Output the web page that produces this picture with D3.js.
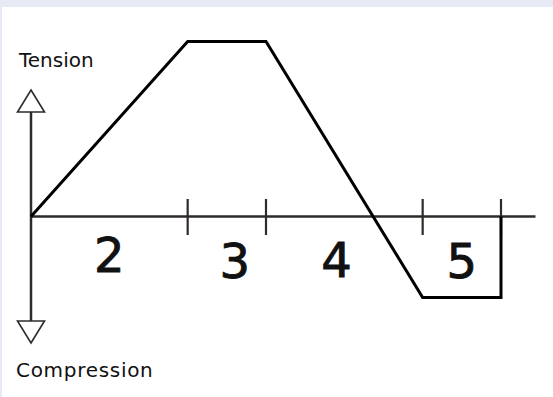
<!DOCTYPE html>
<html>
<head>
<meta charset="utf-8">
<script src="https://cdn.jsdelivr.net/npm/d3@7"></script>
<style>
  html, body { margin: 0; padding: 0; background: #ffffff; }
  svg { display: block; }
</style>
</head>
<body>
<script>
// ---- Data ----
// Force diagram: x = position along member (units), y = force (tension +, compression -)
const forceX = [0, 2, 3, 5, 6, 6];
const forceY = [0, 2, 2, -0.925, -0.925, 0];
// segment boundaries (tick marks on the baseline)
const tickValues = [2, 3, 5, 6];
// segment labels and their anchor positions (data units)
const segLabels = ["2", "3", "4", "5"];
const segLabelX = [1.0, 2.6, 3.9, 5.5];
const segLabelY = [-0.635, -0.705, -0.695, -0.705];
// axis extents (data units)
const xAxisEnd = 6.44;
const yAxisTop = 1.446;
const yAxisBottom = -1.446;
// axis titles
const axisTitles = ["Tension", "Compression"];

// ---- Layout ----
const W = 553, H = 397;
const svg = d3.select("body").append("svg").attr("width", W).attr("height", H);

// frame bands
svg.append("rect").attr("x", 0).attr("y", 0).attr("width", W).attr("height", 7).attr("fill", "#e5eaf5");
svg.append("rect").attr("x", 0).attr("y", 0).attr("width", 2).attr("height", H).attr("fill", "#e5eaf5");

const x = d3.scaleLinear().domain([0, 6]).range([31, 501]);
const y = d3.scaleLinear().domain([0, 2]).range([216.5, 41.5]);

const axisColor = "#2e2b28";

// vertical axis shaft
svg.append("line")
  .attr("x1", x(0)).attr("x2", x(0))
  .attr("y1", y(yAxisTop) + 22).attr("y2", y(yAxisBottom) - 22)
  .attr("stroke", axisColor).attr("stroke-width", 2.5);

// arrowheads (open triangles)
const ah = 22, aw = 13.5;
const upTip = y(yAxisTop), downTip = y(yAxisBottom);
svg.append("path")
  .attr("d", `M${x(0)},${upTip} L${x(0) + aw},${upTip + ah} L${x(0) - aw},${upTip + ah} Z`)
  .attr("fill", "#fff").attr("stroke", axisColor).attr("stroke-width", 1.6).attr("stroke-linejoin", "miter");
svg.append("path")
  .attr("d", `M${x(0)},${downTip} L${x(0) + aw},${downTip - ah} L${x(0) - aw},${downTip - ah} Z`)
  .attr("fill", "#fff").attr("stroke", axisColor).attr("stroke-width", 1.6).attr("stroke-linejoin", "miter");

// horizontal axis with two-sided ticks
const xAxisG = svg.append("g").attr("transform", `translate(0,${y(0)})`);
xAxisG.append("line")
  .attr("x1", x(0)).attr("x2", x(xAxisEnd))
  .attr("stroke", axisColor).attr("stroke-width", 2.5);
xAxisG.selectAll("line.tick")
  .data(tickValues).join("line")
  .attr("class", "tick")
  .attr("x1", d => x(d)).attr("x2", d => x(d))
  .attr("y1", -17.5).attr("y2", 18.5)
  .attr("stroke", axisColor).attr("stroke-width", 2.2);

// force line
const line = d3.line().x(d => x(d[0])).y(d => y(d[1]));
svg.append("path")
  .datum(d3.zip(forceX, forceY))
  .attr("d", line)
  .attr("fill", "none")
  .attr("stroke", "#000")
  .attr("stroke-width", 3)
  .attr("stroke-linejoin", "miter");

// segment labels
svg.selectAll("text.seg")
  .data(segLabels).join("text")
  .attr("class", "seg")
  .attr("x", (d, i) => x(segLabelX[i]))
  .attr("y", (d, i) => y(segLabelY[i]))
  .attr("text-anchor", "middle")
  .attr("font-family", "DejaVu Sans, sans-serif")
  .attr("font-size", 48)
  .attr("fill", "#111")
  .attr("stroke", "#111")
  .attr("stroke-width", 0.9)
  .text(d => d);

// axis titles
svg.append("text")
  .attr("x", 19).attr("y", 67)
  .attr("font-family", "DejaVu Sans, sans-serif")
  .attr("font-size", 20)
  .attr("fill", "#111")
  .text(axisTitles[0]);
svg.append("text")
  .attr("x", 16).attr("y", 377)
  .attr("font-family", "DejaVu Sans, sans-serif")
  .attr("font-size", 20)
  .attr("letter-spacing", 0.7)
  .attr("fill", "#111")
  .text(axisTitles[1]);
</script>
</body>
</html>
